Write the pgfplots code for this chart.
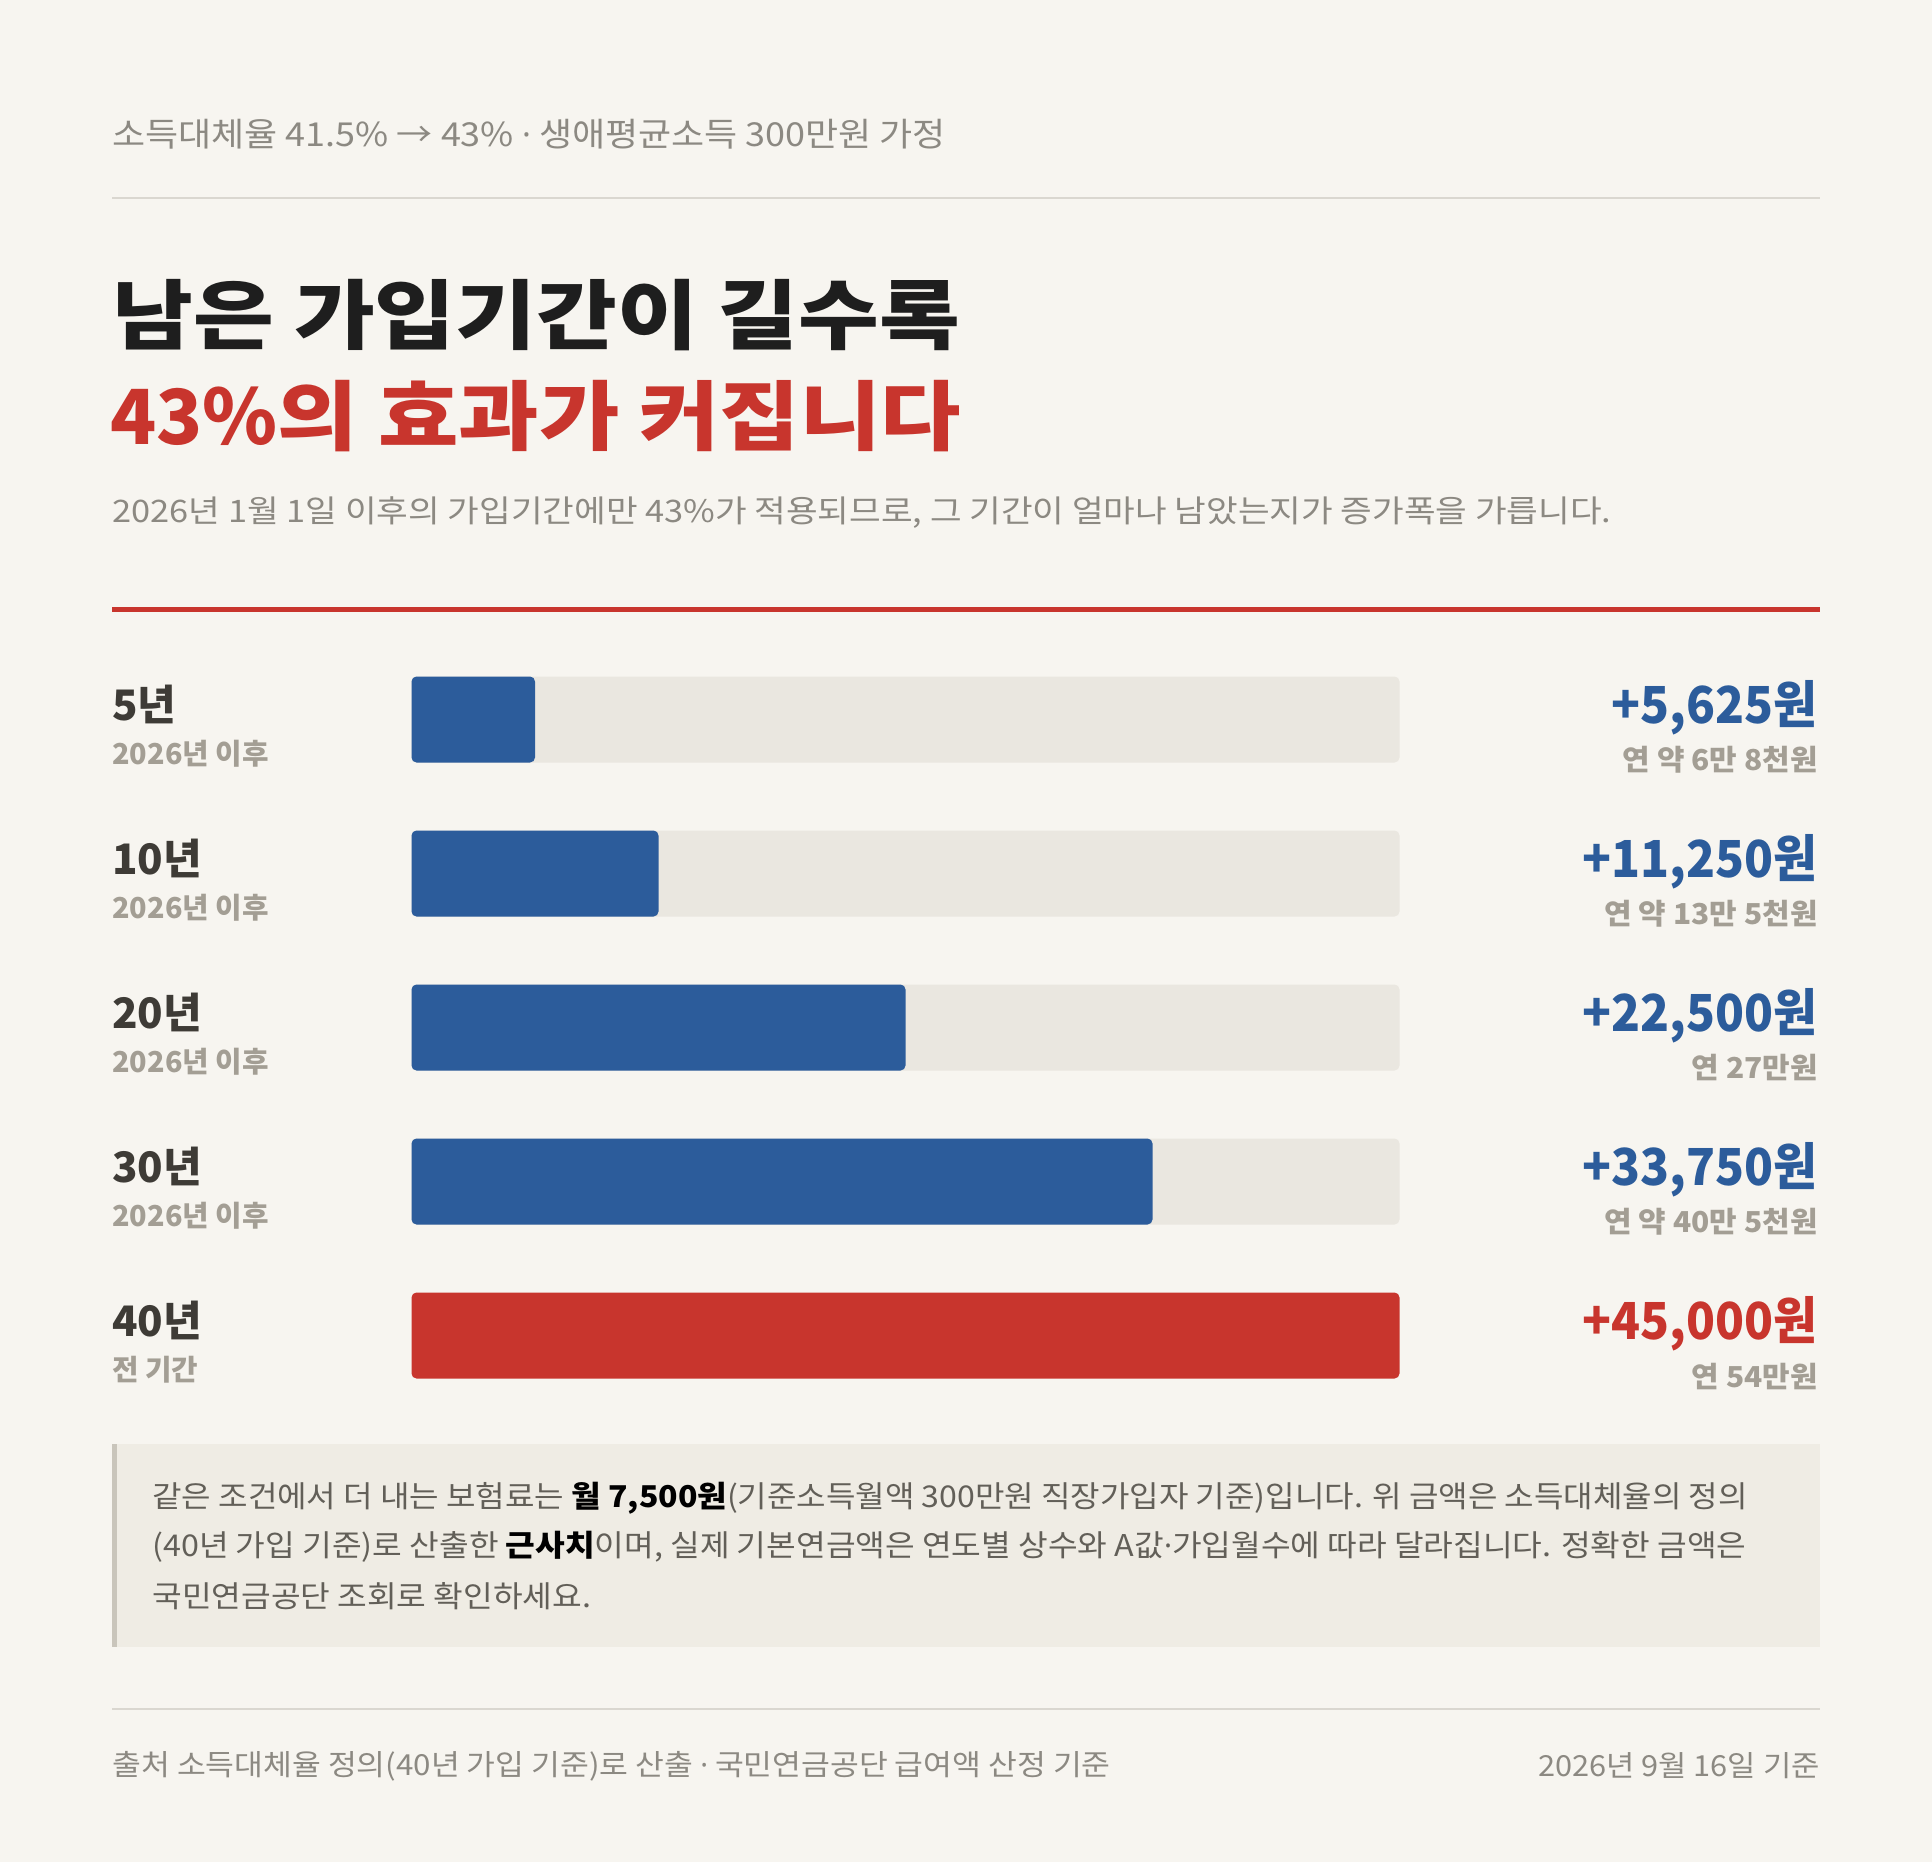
\documentclass[border=0pt]{standalone}
\usepackage{fontspec}
\setmainfont{Noto Sans CJK KR}
\newfontfamily\latin{Noto Sans}
\usepackage{pgfplots}
\pgfplotsset{compat=1.18}

\definecolor{bg}{HTML}{F7F5F0}
\definecolor{track}{HTML}{EAE7E0}
\definecolor{barblue}{HTML}{2C5C9B}
\definecolor{barred}{HTML}{C8352D}
\definecolor{ink}{HTML}{1E1E1E}
\definecolor{muted}{HTML}{8C8982}
\definecolor{label}{HTML}{3E3B36}
\definecolor{sublabel}{HTML}{A39E94}
\definecolor{rule}{HTML}{DAD7D0}
\definecolor{notebg}{HTML}{EFECE4}
\definecolor{noteedge}{HTML}{C9C5BB}
\definecolor{notetext}{HTML}{625F58}

\newcommand{\fs}[1]{\fontsize{#1}{#1}\selectfont}
\newcommand{\st}[1]{\addfontfeatures{FakeStretch=#1}}
\newcommand{\mdot}{{\latin ·}}

\begin{document}
\begin{tikzpicture}[x=0.5pt,y=-0.5pt]
% page
\fill[bg] (0,0) rectangle (1932,1862);

% header
\node[anchor=west, inner sep=0, text=muted] at (112,134) {\fs{16.5}\st{1.09}소득대체율 41.5\% → 43\% \mdot{} 생애평균소득 300만원 가정};
\draw[rule, line width=1.2pt] (112,198) -- (1820,198);
\node[anchor=west, inner sep=0, text=ink] at (112,315) {\fs{38}\bfseries\st{1.155}남은 가입기간이 길수록};
\node[anchor=west, inner sep=0, text=barred] at (110,416) {\fs{38}\bfseries 43\%{\st{1.15}의 효과가 커집니다}};
\node[anchor=west, inner sep=0, text=muted] at (112,513) {\fs{15.5}\st{1.11}2026년 1월 1일 이후의 가입기간에만 43\%가 적용되므로, 그 기간이 얼마나 남았는지가 증가폭을 가릅니다.};
\draw[barred, line width=2.5pt] (112,609) -- (1820,609);

% bars
\coordinate (A) at (411.5,642.5);
\begin{axis}[
  at={(A)}, anchor=north west,
  scale only axis, width=494pt, height=385pt,
  xbar, bar width=43pt, bar shift=0pt,
  xmin=0, xmax=45000, ymin=-0.5, ymax=4.5, y dir=reverse,
  hide axis, clip=false,
]
\addplot[fill=track, draw=none, rounded corners=2.5pt] coordinates {(45000,0) (45000,1) (45000,2) (45000,3)};
\addplot[fill=barblue, draw=none, rounded corners=2.5pt] coordinates {(5625,0) (11250,1) (22500,2) (33750,3)};
\addplot[fill=barred, draw=none, rounded corners=2.5pt] coordinates {(45000,4)};
\end{axis}

% row labels
\node[anchor=west, inner sep=0, text=label] at (112,704) {\fs{21}\bfseries 5년};
\node[anchor=west, inner sep=0, text=sublabel] at (112,754) {\fs{14.4}\bfseries 2026년 이후};
\node[anchor=west, inner sep=0, text=label] at (112,858) {\fs{21}\bfseries 10년};
\node[anchor=west, inner sep=0, text=sublabel] at (112,908) {\fs{14.4}\bfseries 2026년 이후};
\node[anchor=west, inner sep=0, text=label] at (112,1012) {\fs{21}\bfseries 20년};
\node[anchor=west, inner sep=0, text=sublabel] at (112,1062) {\fs{14.4}\bfseries 2026년 이후};
\node[anchor=west, inner sep=0, text=label] at (112,1166) {\fs{21}\bfseries 30년};
\node[anchor=west, inner sep=0, text=sublabel] at (112,1216) {\fs{14.4}\bfseries 2026년 이후};
\node[anchor=west, inner sep=0, text=label] at (112,1320) {\fs{21}\bfseries 40년};
\node[anchor=west, inner sep=0, text=sublabel] at (112,1370) {\fs{14.4}\bfseries 전 기간};

% values
\node[anchor=east, inner sep=0, text=barblue] at (1818,708) {\fs{25.5}\bfseries\st{0.935}+5,625원};
\node[anchor=east, inner sep=0, text=sublabel] at (1818,760) {\fs{14.4}\bfseries\st{1.04}연 약 6만 8천원};
\node[anchor=east, inner sep=0, text=barblue] at (1818,862) {\fs{25.5}\bfseries\st{0.935}+11,250원};
\node[anchor=east, inner sep=0, text=sublabel] at (1818,914) {\fs{14.4}\bfseries\st{1.04}연 약 13만 5천원};
\node[anchor=east, inner sep=0, text=barblue] at (1818,1016) {\fs{25.5}\bfseries\st{0.935}+22,500원};
\node[anchor=east, inner sep=0, text=sublabel] at (1818,1068) {\fs{14.4}\bfseries\st{1.04}연 27만원};
\node[anchor=east, inner sep=0, text=barblue] at (1818,1170) {\fs{25.5}\bfseries\st{0.935}+33,750원};
\node[anchor=east, inner sep=0, text=sublabel] at (1818,1222) {\fs{14.4}\bfseries\st{1.04}연 약 40만 5천원};
\node[anchor=east, inner sep=0, text=barred] at (1818,1324) {\fs{25.5}\bfseries\st{0.935}+45,000원};
\node[anchor=east, inner sep=0, text=sublabel] at (1818,1376) {\fs{14.4}\bfseries\st{1.04}연 54만원};

% note box
\fill[notebg] (112,1444) rectangle (1820,1647);
\fill[noteedge] (112,1444) rectangle (117,1647);
\node[anchor=west, inner sep=0, text=notetext] at (152,1498) {\fs{15}\st{1.068}같은 조건에서 더 내는 보험료는 {\bfseries\color{black}월 7,500원}(기준소득월액 300만원 직장가입자 기준)입니다. 위 금액은 소득대체율의 정의};
\node[anchor=west, inner sep=0, text=notetext] at (152,1547) {\fs{15}\st{1.075}(40년 가입 기준)로 산출한 {\bfseries\color{black}근사치}이며, 실제 기본연금액은 연도별 상수와 A값\mdot{}가입월수에 따라 달라집니다. 정확한 금액은};
\node[anchor=west, inner sep=0, text=notetext] at (152,1596) {\fs{15}\st{1.075}국민연금공단 조회로 확인하세요.};

% footer
\draw[rule, line width=1.2pt] (112,1709) -- (1820,1709);
\node[anchor=west, inner sep=0, text=muted] at (112,1766) {\fs{14.5}\st{1.08}출처 소득대체율 정의(40년 가입 기준)로 산출 \mdot{} 국민연금공단 급여액 산정 기준};
\node[anchor=east, inner sep=0, text=muted] at (1820,1766) {\fs{14.5}\st{1.06}2026년 9월 16일 기준};
\end{tikzpicture}
\end{document}
